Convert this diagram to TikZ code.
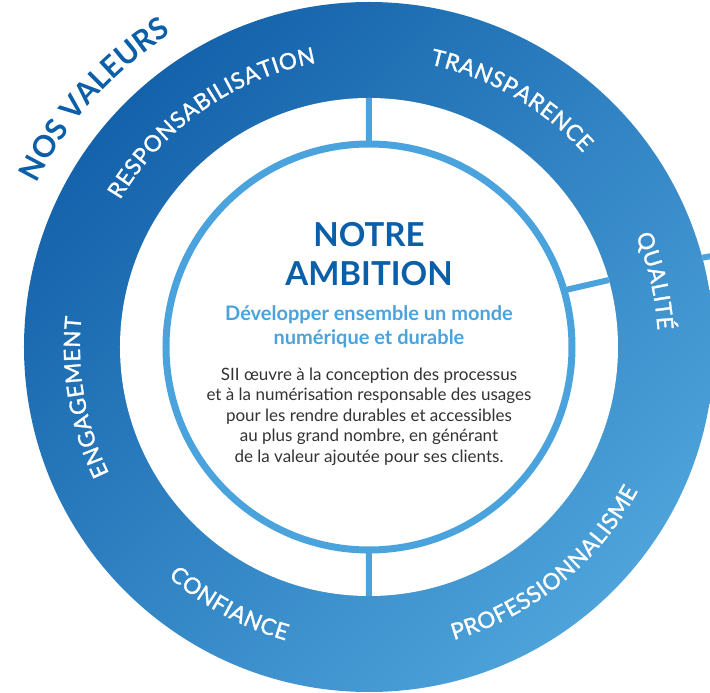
\documentclass[tikz,border=0pt]{standalone}
\usepackage{fontspec}
\setmainfont{Lato}
\newfontfamily\ringfont[FakeBold=1.3]{Lato}
\newcommand\ringsize{\ringfont\fontsize{22.5}{22.5}\selectfont}
\usetikzlibrary{decorations.text}
\definecolor{ringdark}{HTML}{1462AB}
\definecolor{ringlight}{HTML}{4DA3DA}
\definecolor{spokeblue}{HTML}{4AA3DC}
\definecolor{titleblue}{HTML}{0B5EA8}
\definecolor{bodygray}{HTML}{333333}
\tikzset{
  valeur/.style={font=\ringsize,decorate,decoration={text effects along path,text={#1},text align=center,
    text effects/.cd,text along path,
    character widths={inner xsep=0.3pt,font=\ringsize},
    characters={text=white,font=\ringsize}}},
  entete/.style={decorate,decoration={text along path,text align=center,text color=titleblue,
    text={|\bfseries\fontsize{30}{30}\selectfont|#1}}},
  spoke/.style={draw=spokeblue,line width=6},
  titre/.style={anchor=base,text=titleblue,font=\bfseries\fontsize{33}{33}\selectfont},
  sous/.style={anchor=base,text=spokeblue,font=\bfseries\fontsize{20}{20}\selectfont},
  corps/.style={anchor=base,text=bodygray,font=\fontsize{17}{17}\selectfont}
}
\begin{document}
\begin{tikzpicture}[x=1pt,y=1pt]
\useasboundingbox (-369,-346) rectangle (341,347);
\clip (-369,-346) rectangle (341,347);
\shade[top color=ringdark,bottom color=ringlight,shading angle=45] (0,0) circle[radius=345];
\fill[white] (0,0) circle[radius=249];
\draw[draw=spokeblue,line width=7] (0,0) circle[radius=203];
\draw[spoke] (90:203) -- (90:249) (270:203) -- (270:249) (16.2:203) -- (15.6:249) (15:345) -- (14.8:360);
\path[valeur=RESPONSABILISATION] (165:289) arc[start angle=165,end angle=85,radius=289];
\path[valeur=TRANSPARENCE] (100:289) arc[start angle=100,end angle=20,radius=289];
\path[valeur=QUALITÉ] (53:289) arc[start angle=53,end angle=-27,radius=289];
\path[valeur=ENGAGEMENT] (230:289) arc[start angle=230,end angle=150,radius=289];
\path[valeur=CONFIANCE] (-158.5:305) arc[start angle=-158.5,end angle=-78.5,radius=305];
\path[valeur=PROFESSIONNALISME] (-91:305) arc[start angle=-91,end angle=-11,radius=305];
\path[entete=NOS VALEURS] (178:370) arc[start angle=178,end angle=98,radius=370];
\node[titre] (notre) at (0,100) {NOTRE};
\node[titre] (ambition) at (0,61) {AMBITION};
\node[sous] (sous1) at (0,26) {Développer ensemble un monde};
\node[sous] (sous2) at (0,2) {numérique et durable};
\node[corps] (l1) at (0,-34) {SII œuvre à la conception des processus};
\node[corps] (l2) at (0,-54) {et à la numérisation responsable des usages};
\node[corps] (l3) at (0,-75) {pour les rendre durables et accessibles};
\node[corps] (l4) at (0,-95) {au plus grand nombre, en générant};
\node[corps] (l5) at (0,-116) {de la valeur ajoutée pour ses clients.};
\end{tikzpicture}
\end{document}
